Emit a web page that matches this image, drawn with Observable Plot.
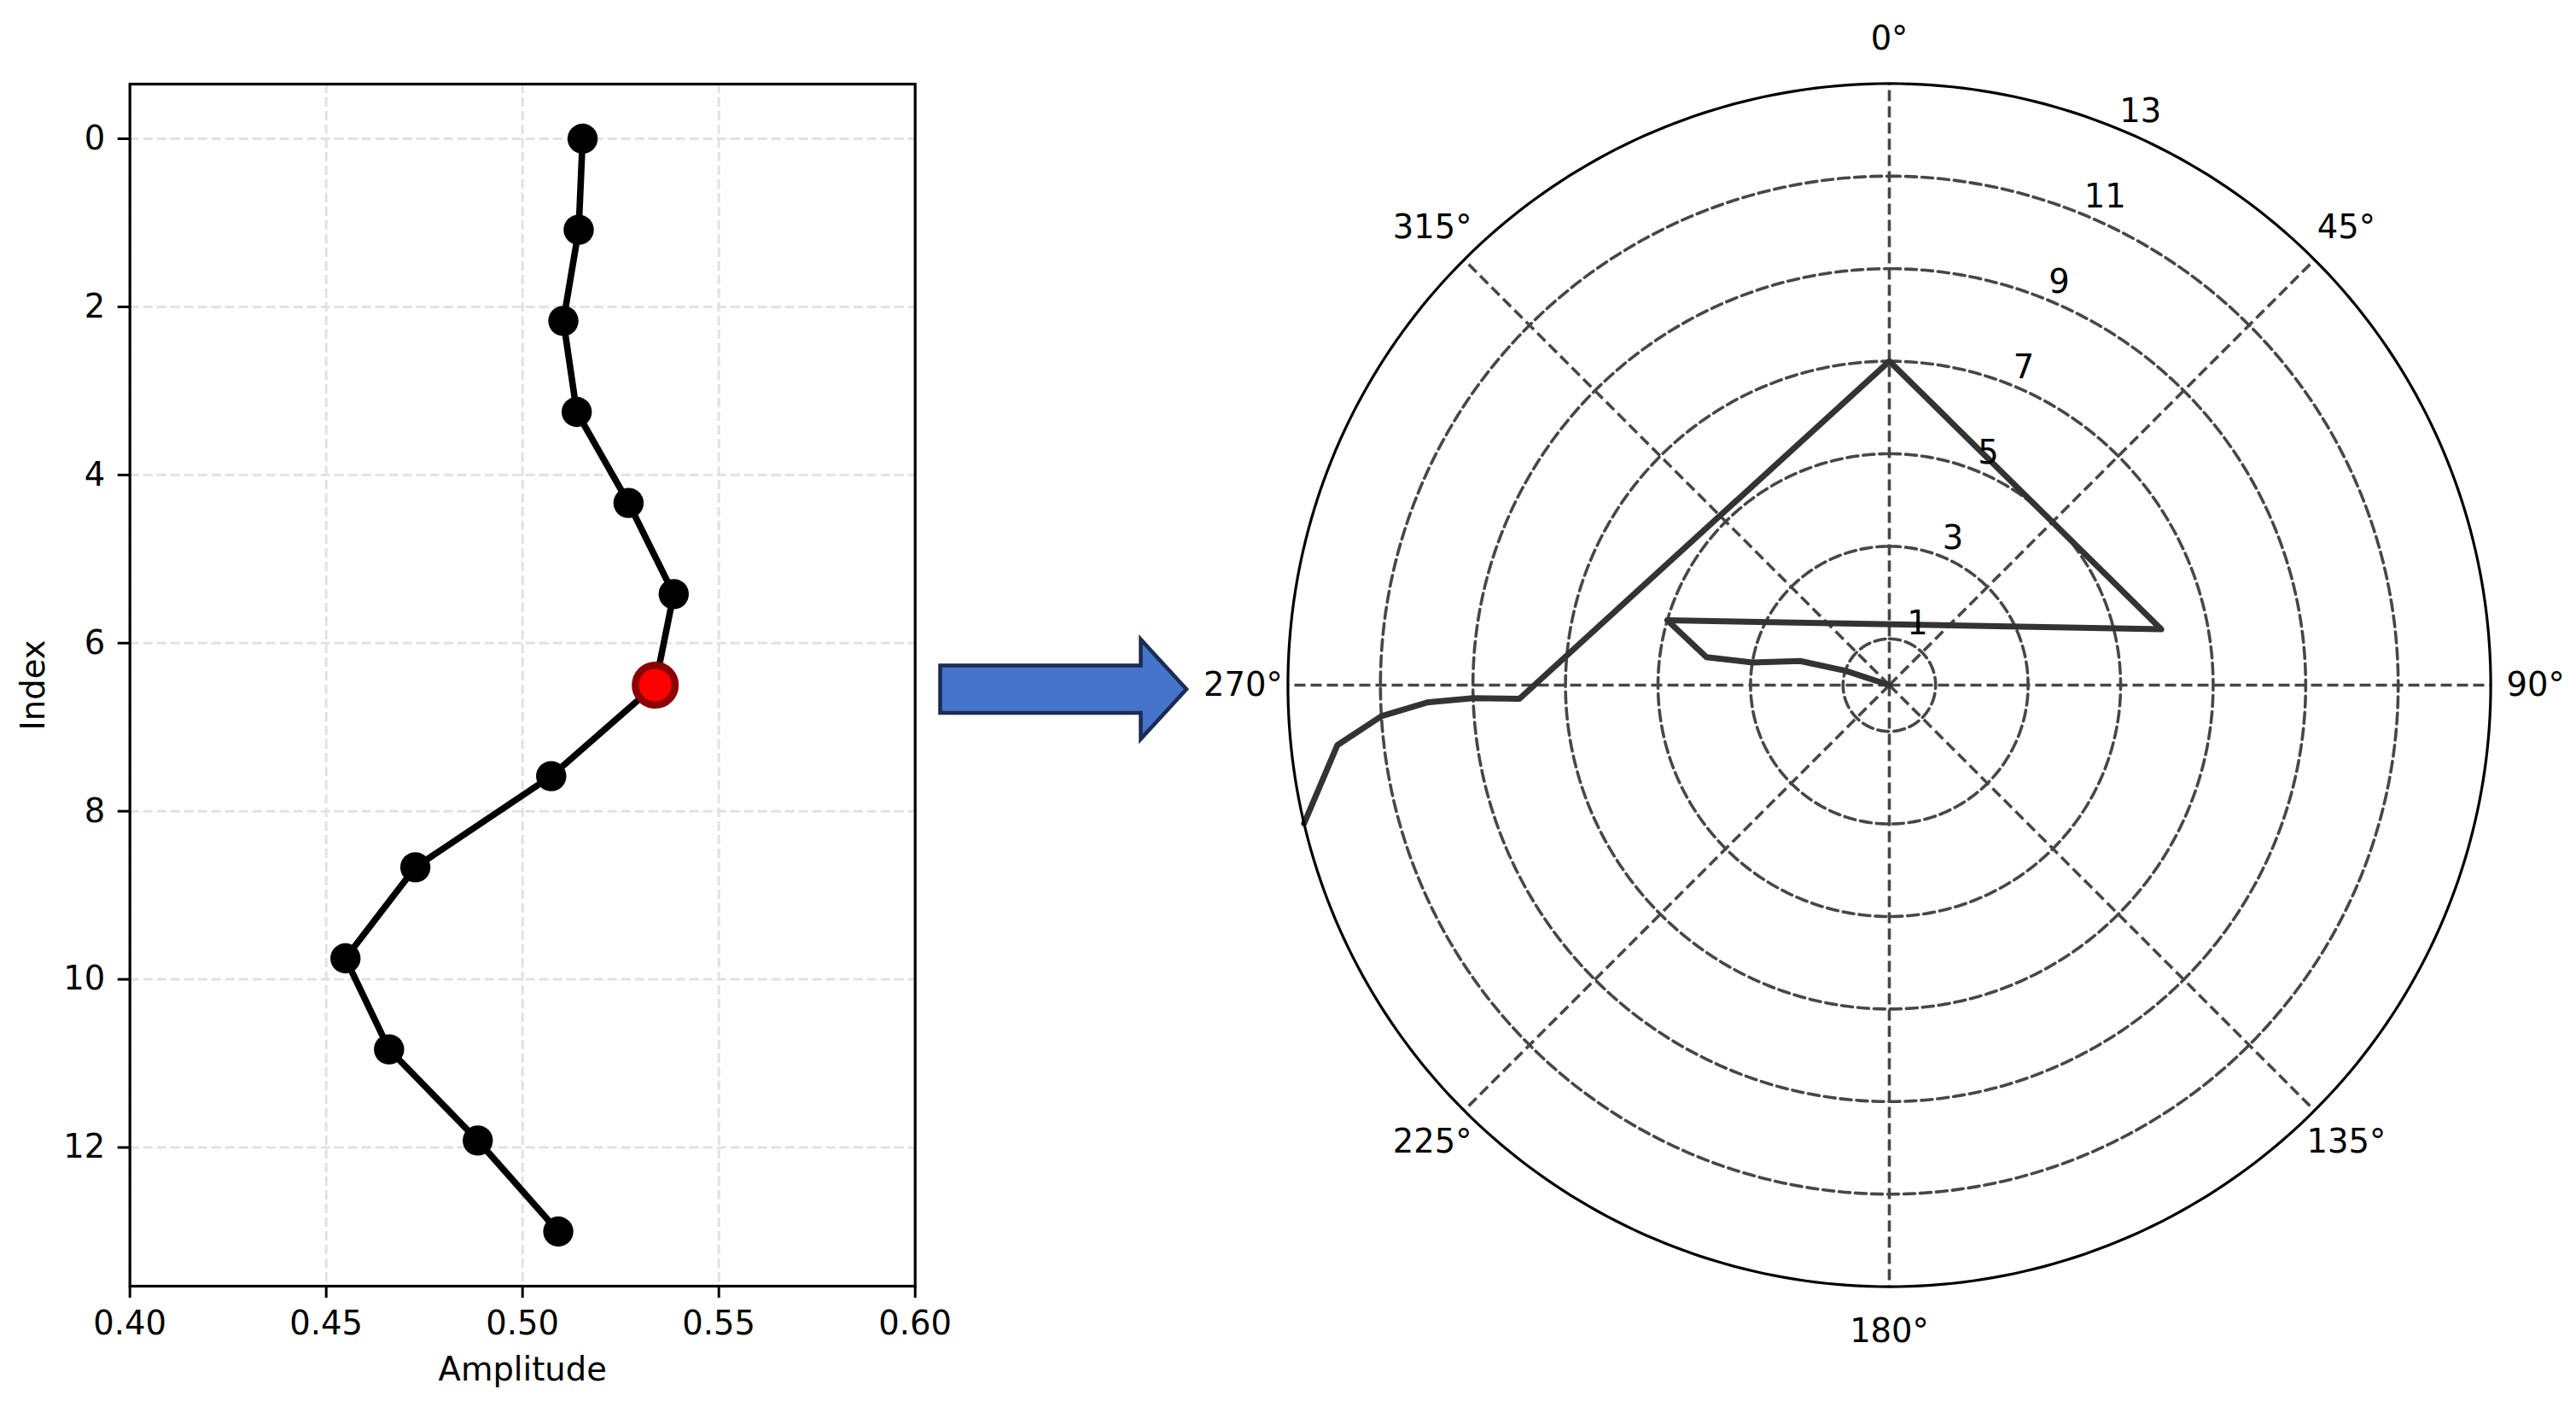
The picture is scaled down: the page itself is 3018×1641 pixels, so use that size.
<!DOCTYPE html>
<html>
<head>
<meta charset="utf-8">
<script src="https://cdn.jsdelivr.net/npm/d3@7"></script>
<script src="https://cdn.jsdelivr.net/npm/@observablehq/plot@0.6"></script>
<style>
  html, body { margin: 0; padding: 0; background: white; }
  #root { position: relative; width: 3018px; height: 1641px; background: white; overflow: hidden; font-family: "DejaVu Sans", sans-serif; }
  .panel { position: absolute; top: 0; }
  .panel svg { display: block; }
</style>
</head>
<body>
<div id="root">
  <div class="panel" id="left" style="left:0px;"></div>
  <svg id="arrow" style="position:absolute;left:0;top:0;" width="3018" height="1641">
    <polygon points="1101.5,779.5 1336.5,779.5 1336.5,749 1390,807.3 1336.5,865.6 1336.5,835 1101.5,835"
             fill="#4674ca" stroke="#1b2d54" stroke-width="4.6" stroke-linejoin="miter"/>
  </svg>
  <div class="panel" id="right" style="left:1300px;"></div>
</div>
<script>
// ---------- Left panel data ----------
const indexValues = [0, 1.083, 2.167, 3.25, 4.333, 5.417, 6.5, 7.583, 8.667, 9.75, 10.833, 11.917, 13];
const amplitudeValues = [0.5153, 0.5143, 0.5104, 0.5138, 0.5270, 0.5385, 0.5338, 0.5073, 0.4727, 0.4549, 0.4660, 0.4886, 0.5091];
const highlightIndex = 6;
const xTicks = [0.40, 0.45, 0.50, 0.55, 0.60];
const yTicks = [0, 2, 4, 6, 8, 10, 12];

// ---------- Right (polar) panel data ----------
const polarR = [0, 1, 2, 3, 4, 5, 6, 7, 8, 9, 10, 11, 12, 13];
const polarThetaDeg = [0, 288.2, 285.1, 279.4, 278.7, 286.3, 78.4, 0, 267.9, 268.2, 267.85, 266.5, 263.8, 256.7];
const angleTicks = [0, 45, 90, 135, 180, 225, 270, 315];
const radialGrid = [1, 3, 5, 7, 9, 11];
const radialLabels = [1, 3, 5, 7, 9, 11, 13];
const rMax = 13;

const FONT = "DejaVu Sans";
const FS = 38.5;

// ---------- Left chart ----------
const leftRows = indexValues.map((idx, i) => ({idx, amp: amplitudeValues[i], i}));
const hlRows = leftRows.filter(d => d.i === highlightIndex);

const leftPlot = Plot.plot({
  width: 1100,
  height: 1641,
  marginLeft: 151.7,
  marginRight: 28.3,
  marginTop: 98,
  marginBottom: 135,
  style: {fontFamily: FONT, fontSize: FS + "px", color: "black", background: "white", overflow: "visible"},
  x: {domain: [0.40, 0.60], axis: null},
  y: {domain: [-0.65, 13.65], reverse: true, axis: null},
  marks: [
    Plot.gridX(xTicks, {stroke: "#e2e2e2", strokeOpacity: 1, strokeWidth: 3, strokeDasharray: "11,5"}),
    Plot.gridY(yTicks, {stroke: "#e2e2e2", strokeOpacity: 1, strokeWidth: 3, strokeDasharray: "11,5"}),
    Plot.line(leftRows, {x: "amp", y: "idx", stroke: "black", strokeWidth: 7.6, strokeLinejoin: "round"}),
    Plot.dot(leftRows.filter(d => d.i !== highlightIndex), {x: "amp", y: "idx", r: 17.7, fill: "black", stroke: null}),
    Plot.dot(hlRows, {x: "amp", y: "idx", r: 23.3, fill: "#ff0000", stroke: "#8b0000", strokeWidth: 8.5}),
    Plot.frame({stroke: "black", strokeWidth: 3.2}),
    Plot.axisX(xTicks, {anchor: "bottom", tickSize: 14, tickPadding: 15, strokeWidth: 3, stroke: "black", fontSize: FS, tickFormat: d3.format(".2f"), label: null}),
    Plot.axisY(yTicks, {anchor: "left", tickSize: 14, tickPadding: 15, strokeWidth: 3, stroke: "black", fontSize: FS, tickFormat: d => String(d), label: null}),
    Plot.text(["Amplitude"], {frameAnchor: "bottom", dy: 98, fontSize: FS, textAnchor: "middle", lineAnchor: "middle", fill: "black"}),
    Plot.text(["Index"], {frameAnchor: "left", dx: -112.7, rotate: -90, fontSize: FS, textAnchor: "middle", lineAnchor: "middle", fill: "black"})
  ]
});
document.getElementById("left").appendChild(leftPlot);

// ---------- Right (polar) chart ----------
const rad = a => a * Math.PI / 180;
const px = (r, a) => r * Math.sin(rad(a));
const py = (r, a) => r * Math.cos(rad(a));

const polarRows = polarR.map((r, i) => ({x: px(r, polarThetaDeg[i]), y: py(r, polarThetaDeg[i])}));
const ringRows = radialGrid.flatMap(r => d3.range(0, 361, 1).map(a => ({r, x: px(r, a), y: py(r, a)})));
const outerRows = d3.range(0, 361, 1).map(a => ({x: px(rMax, a), y: py(rMax, a)}));

const rightPlot = Plot.plot({
  width: 1718,
  height: 1641,
  marginLeft: 208.4,
  marginRight: 100.4,
  marginTop: 97.4,
  marginBottom: 134.4,
  style: {fontFamily: FONT, fontSize: FS + "px", color: "black", background: "transparent", overflow: "visible"},
  x: {domain: [-rMax, rMax], axis: null},
  y: {domain: [-rMax, rMax], axis: null},
  marks: [
    Plot.line(ringRows, {x: "x", y: "y", z: "r", stroke: "#474747", strokeWidth: 3.6, strokeDasharray: "13,6"}),
    Plot.link(angleTicks, {x1: () => 0, y1: () => 0, x2: a => px(rMax, a), y2: a => py(rMax, a), stroke: "#474747", strokeWidth: 3.6, strokeDasharray: "13,6"}),
    Plot.line(polarRows, {x: "x", y: "y", stroke: "#333333", strokeWidth: 7, strokeLinejoin: "round"}),
    Plot.line(outerRows, {x: "x", y: "y", stroke: "black", strokeWidth: 3.2}),
    Plot.text(angleTicks, {x: a => px(13.97, a), y: a => py(13.97, a), text: a => `${a}°`, fontSize: FS, textAnchor: "middle", lineAnchor: "middle", fill: "black"}),
    Plot.text(radialLabels, {x: r => px(r, 22.5), y: r => py(r, 22.5), text: r => String(r), fontSize: FS, textAnchor: "start", lineAnchor: "bottom", dy: -9, fill: "black"})
  ]
});
document.getElementById("right").appendChild(rightPlot);
</script>
</body>
</html>
